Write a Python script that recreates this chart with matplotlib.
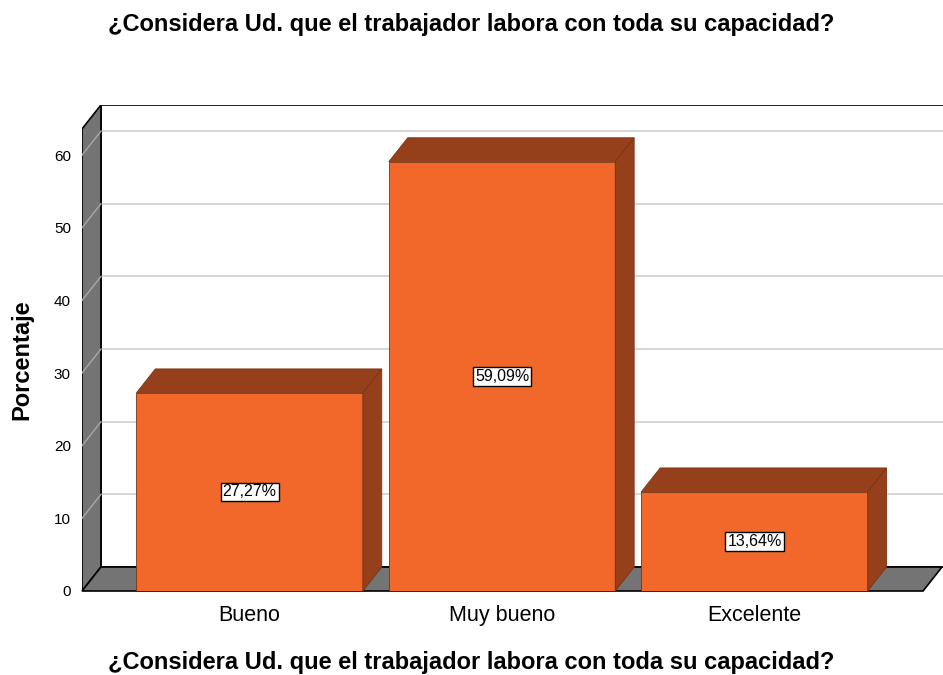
import matplotlib.pyplot as plt
from matplotlib.patches import Polygon

plt.rcParams['font.family'] = ['Liberation Sans', 'DejaVu Sans']

categorias = ["Bueno", "Muy bueno", "Excelente"]
porcentajes = [27.27, 59.09, 13.64]
yticks = [0, 10, 20, 30, 40, 50, 60]
titulo = "¿Considera Ud. que el trabajador labora con toda su capacidad?"

naranja = "#F2682B"
oscuro = "#963F1B"
gris = "#747474"

# pseudo 3D depth (data units)
dx, dy = 0.075, 3.3
ancho = 0.897
x0, x1 = -0.664, 2.668
ytop = 63.6

fig = plt.figure(figsize=(9.43, 6.75), dpi=100)
ax = fig.add_axes([82 / 943, (675 - 591) / 675, (943 - 82) / 943, (591 - 105) / 675])
ax.set_xlim(x0, x1 + dx + 0.004)
ax.set_ylim(0, ytop + dy)
for s in ax.spines.values():
    s.set_visible(False)

# back wall
ax.add_patch(Polygon([(x0 + dx, dy), (x1 + dx + 0.01, dy), (x1 + dx + 0.01, ytop + dy), (x0 + dx, ytop + dy)],
                     closed=True, facecolor="white", edgecolor="black", lw=1.2, zorder=1))
for v in yticks[1:]:
    ax.plot([x0 + dx, x1 + dx + 0.01], [v + dy, v + dy], color="#cfcfcf", lw=1.2, zorder=2)
# side wall
ax.add_patch(Polygon([(x0, 0), (x0 + dx, dy), (x0 + dx, ytop + dy), (x0, ytop)],
                     closed=True, facecolor=gris, edgecolor="black", lw=1.2, zorder=3))
for v in yticks[1:]:
    ax.plot([x0, x0 + dx], [v, v + dy], color="#a8a8a8", lw=1, zorder=4)
# floor
ax.add_patch(Polygon([(x0, 0), (x1, 0), (x1 + dx, dy), (x0 + dx, dy)],
                     closed=True, facecolor=gris, edgecolor="black", lw=1.2, zorder=3, clip_on=False))

# bars
for i, (c, v) in enumerate(zip(categorias, porcentajes)):
    a, b = i - ancho / 2, i + ancho / 2
    ax.add_patch(Polygon([(a, 0), (b, 0), (b, v), (a, v)], closed=True,
                         facecolor=naranja, edgecolor="#7a3312", lw=0.6, zorder=5))
    ax.add_patch(Polygon([(a, v), (b, v), (b + dx, v + dy), (a + dx, v + dy)], closed=True,
                         facecolor=oscuro, edgecolor="#7a3312", lw=0.6, zorder=5))
    ax.add_patch(Polygon([(b, 0), (b + dx, dy), (b + dx, v + dy), (b, v)], closed=True,
                         facecolor=oscuro, edgecolor="#7a3312", lw=0.6, zorder=5))
    ax.text(i, v / 2, f"{v:.2f}".replace(".", ",") + "%", ha="center", va="center",
            fontsize=11.5, zorder=6,
            bbox=dict(boxstyle="square,pad=0.12", facecolor="white", edgecolor="black", lw=1))

ax.set_yticks(yticks)
ax.set_yticklabels([str(t) for t in yticks], fontsize=11)
ax.set_xticks(range(len(categorias)))
ax.set_xticklabels(categorias, fontsize=15.5)
ax.tick_params(axis="y", length=0, pad=8)
ax.tick_params(axis="x", length=0, pad=10)

fig.text(0.5, 1 - 24 / 675, titulo, ha="center", va="center", fontsize=17, fontweight="bold")
fig.text(0.5, 1 - 662 / 675, titulo, ha="center", va="center", fontsize=17, fontweight="bold")
fig.text(22 / 943, 1 - 360 / 675, "Porcentaje", ha="center", va="center", rotation=90,
         fontsize=17, fontweight="bold")

fig.savefig("out.png", dpi=100)
